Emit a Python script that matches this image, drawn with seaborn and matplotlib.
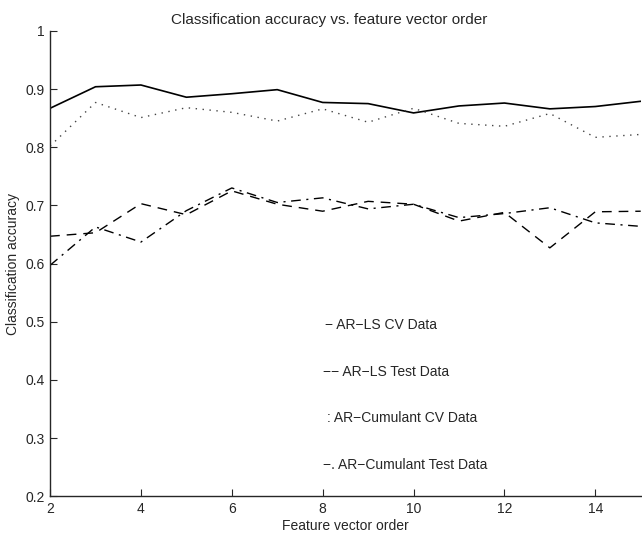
import numpy as np
import pandas as pd
import matplotlib
matplotlib.use("Agg")
import matplotlib.pyplot as plt
from matplotlib.ticker import FuncFormatter
import seaborn as sns

# Feature vector orders and classification accuracies
orders = [2, 3, 4, 5, 6, 7, 8, 9, 10, 11, 12, 13, 14, 15]
ar_ls_cv = [0.867, 0.904, 0.907, 0.886, 0.892, 0.899, 0.877, 0.875, 0.859, 0.871, 0.876, 0.866, 0.870, 0.879]
ar_ls_test = [0.647, 0.653, 0.703, 0.684, 0.725, 0.702, 0.690, 0.707, 0.702, 0.673, 0.688, 0.627, 0.689, 0.690]
ar_cum_cv = [0.802, 0.877, 0.851, 0.868, 0.860, 0.845, 0.866, 0.843, 0.867, 0.841, 0.836, 0.858, 0.817, 0.822]
ar_cum_test = [0.597, 0.663, 0.637, 0.691, 0.730, 0.705, 0.713, 0.694, 0.702, 0.679, 0.686, 0.696, 0.670, 0.664]

legend_labels = ["\u2212 AR\u2212LS CV Data", "\u2212\u2212 AR\u2212LS Test Data",
                 ": AR\u2212Cumulant CV Data", "\u2212. AR\u2212Cumulant Test Data"]

sns.set_style("ticks")
plt.rcParams["font.family"] = ["Liberation Sans", "DejaVu Sans"]

fig = plt.figure(figsize=(6.42, 5.33), dpi=100)
ax = fig.add_axes([0.078, 0.069, 0.92, 0.873])

series = [
    (ar_ls_cv, "-", 1.2, "black"),
    (ar_ls_test, (0, (7, 5)), 1.0, "black"),
    (ar_cum_cv, (0, (1, 4)), 1.0, "#444444"),
    (ar_cum_test, (0, (7, 4, 1.5, 4)), 1.0, "black"),
]
for vals, ls, lw, col in series:
    sns.lineplot(x=orders, y=vals, ax=ax, color=col, linestyle=ls, linewidth=lw)

# MATLAB-style text legend placed inside the axes
label_y = [0.495, 0.414, 0.334, 0.253]
label_x = [8.05, 8.0, 8.1, 8.0]
for lx, ly, txt in zip(label_x, label_y, legend_labels):
    ax.text(lx, ly, txt, fontsize=10, ha="left", va="center")

ax.set_xlim(2, 15)
ax.set_ylim(0.2, 1.0)
ax.set_xticks([2, 4, 6, 8, 10, 12, 14])
ax.set_yticks(np.round(np.arange(0.2, 1.01, 0.1), 1))
ax.yaxis.set_major_formatter(FuncFormatter(lambda v, p: f"{v:g}"))
ax.tick_params(direction="in", length=5, width=0.8, labelsize=10, pad=4)
sns.despine(ax=ax)
ax.spines["left"].set_linewidth(1.0)
ax.spines["bottom"].set_linewidth(1.0)

ax.set_title("Classification accuracy vs. feature vector order", fontsize=11, pad=5, x=0.472)
ax.set_xlabel("Feature vector order", fontsize=10, labelpad=2)
ax.set_ylabel("Classification accuracy", fontsize=10, labelpad=4)

fig.savefig("out.png", dpi=100)
